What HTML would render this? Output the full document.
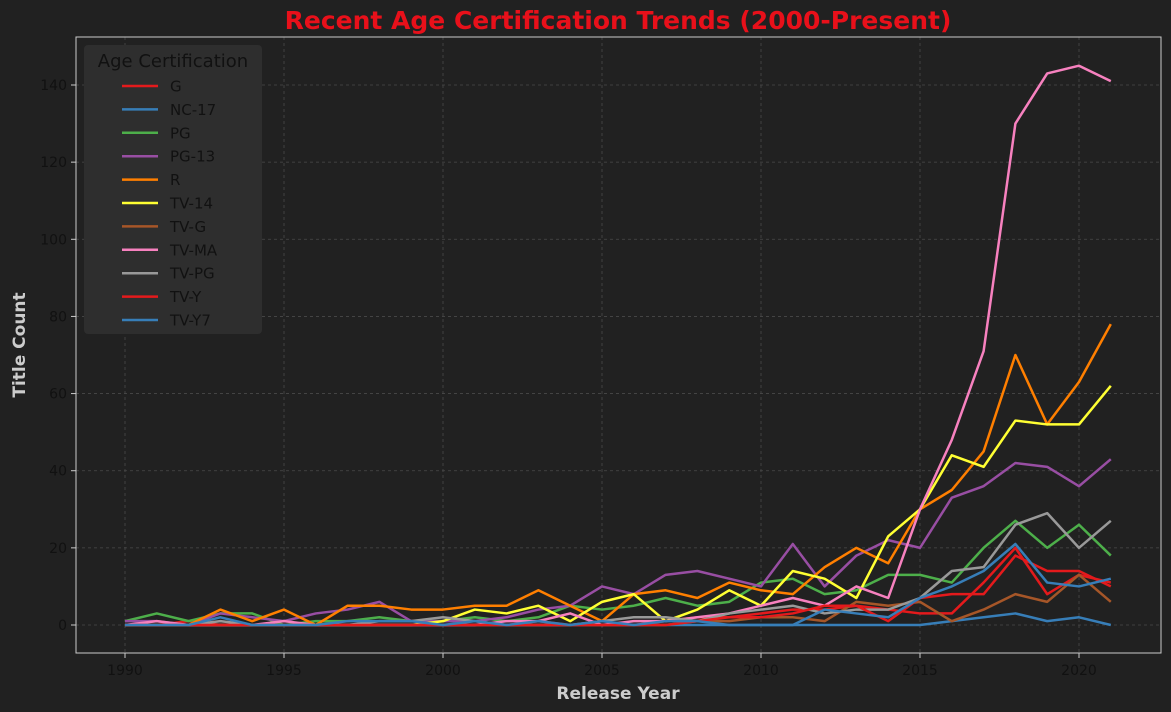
<!DOCTYPE html>
<html><head><meta charset="utf-8"><style>
html,body{margin:0;padding:0;background:#212121;overflow:hidden;}
svg{display:block;}
svg text{font-family:"DejaVu Sans","Liberation Sans",sans-serif;}
</style></head><body>
<svg id="chart" width="1171" height="712" xmlns="http://www.w3.org/2000/svg">
<rect width="1171" height="712" fill="#212121"/>
<g id="grid"></g><g id="series"></g><g id="axes"></g>
<text x="618" y="29" text-anchor="middle" font-size="25" font-weight="bold" fill="#e8101a">Recent Age Certification Trends (2000-Present)</text>
<text x="618" y="699" text-anchor="middle" font-size="17" font-weight="bold" fill="#cccccc">Release Year</text>
<text transform="translate(25,345) rotate(-90)" text-anchor="middle" font-size="17" font-weight="bold" fill="#cccccc">Title Count</text>
<g id="legend"></g>
</svg>
<script>
const years=[];for(let y=1990;y<=2021;y++)years.push(y);
const names=["G","NC-17","PG","PG-13","R","TV-14","TV-G","TV-MA","TV-PG","TV-Y","TV-Y7"];
const colors=["#e41a1c","#377eb8","#4daf4a","#984ea3","#ff7f00","#ffff33","#a65628","#f781bf","#999999","#e41a1c","#377eb8"];
const sG=[0,0,1,0,0,0,0,0,0,0,0,0,0,1,0,0,0,1,2,2,3,4,4,5,4,3,3,11,20,8,13,11];
const sNC17=[0,0,0,0,0,0,0,0,0,0,0,0,0,0,0,0,0,0,0,0,0,0,0,0,0,0,1,2,3,1,2,0];
const sPG=[1,3,1,3,3,0,1,1,2,1,1,2,1,2,5,4,5,7,5,6,11,12,8,9,13,13,11,20,27,20,26,18];
const sPG13=[1,1,0,3,2,1,3,4,6,1,1,1,2,4,5,10,8,13,14,12,10,21,10,18,22,20,33,36,42,41,36,43];
const sR=[0,0,0,4,1,4,0,5,5,4,4,5,5,9,5,1,8,9,7,11,9,8,15,20,16,30,35,45,70,52,63,78];
const sTV14=[0,0,0,0,0,0,0,0,0,0,1,4,3,5,1,6,8,1,4,9,5,14,12,7,23,30,44,41,53,52,52,62];
const sTVG=[0,0,0,0,0,0,0,0,0,0,0,0,0,0,0,0,0,0,1,1,2,2,1,6,5,6,1,4,8,6,13,6];
const sTVMA=[0,1,0,0,0,1,0,0,0,0,0,0,1,1,3,0,1,1,2,3,5,7,5,10,7,30,48,71,130,143,145,141];
const sTVPG=[0,0,0,1,0,0,0,0,1,1,2,1,0,0,0,1,2,2,1,3,4,5,3,4,4,7,14,15,26,29,20,27];
const sTVY=[0,0,0,0,0,0,0,0,0,0,0,0,0,0,0,0,0,0,1,2,2,3,5,5,1,7,8,8,18,14,14,10];
const sTVY7=[0,0,0,2,0,0,0,1,1,1,0,1,0,1,0,1,0,1,1,0,0,0,4,3,2,7,10,14,21,11,10,12];
const series=[sG,sNC17,sPG,sPG13,sR,sTV14,sTVG,sTVMA,sTVPG,sTVY,sTVY7];
const yTicks=[0,20,40,60,80,100,120,140];
const xTicks=[1990,1995,2000,2005,2010,2015,2020];
const L=76,R=1161,T=37,B=653;
const x=v=>125+(v-1990)*(1079-125)/30;
const y=v=>625-v*(540/140);
const NS="http://www.w3.org/2000/svg";
function mk(tag,attrs,parent){const e=document.createElementNS(NS,tag);for(const k in attrs)e.setAttribute(k,attrs[k]);parent.appendChild(e);return e;}
const grid=document.getElementById('grid'),axes=document.getElementById('axes'),sg=document.getElementById('series'),lg=document.getElementById('legend');
xTicks.forEach(t=>{
 const g=mk('line',{x1:x(t),x2:x(t),y1:T,y2:B,stroke:'#4a4a4a',"stroke-dasharray":'3,3',"stroke-width":0.8},grid);
 
 mk('line',{x1:x(t),x2:x(t),y1:B,y2:B+5,stroke:'#ccc'},axes);
 const tx=mk('text',{x:x(t),y:B+22,"text-anchor":'middle',"font-size":14,fill:'#111'},axes);tx.textContent=t;
 
});
yTicks.forEach(t=>{
 const g=mk('line',{x1:L,x2:R,y1:y(t),y2:y(t),stroke:'#4a4a4a',"stroke-dasharray":'3,3',"stroke-width":0.8},grid);
 
 mk('line',{x1:L-5,x2:L,y1:y(t),y2:y(t),stroke:'#ccc'},axes);
 const tx=mk('text',{x:L-9,y:y(t)+5,"text-anchor":'end',"font-size":14,fill:'#111'},axes);tx.textContent=t;
 
});
const frame=mk('rect',{x:L,y:T,width:R-L,height:B-T,fill:'none',stroke:'#ccc',"stroke-width":1},axes);

series.forEach((s,i)=>{
 const p=mk('polyline',{points:s.map((v,j)=>x(years[j])+','+y(v)).join(' '),fill:'none',stroke:colors[i],"stroke-width":2.5,"stroke-linejoin":'round'},sg);
 
});
const box=mk('rect',{x:84,y:45,width:178,height:289,rx:4,fill:'#2e2e2e',stroke:'none'},lg);

const lt=mk('text',{x:173,y:67,"text-anchor":'middle',"font-size":18,fill:'#111'},lg);lt.textContent='Age Certification';

names.forEach((n,i)=>{
 const yy=86+i*23.4;
 const g=mk('g',{},lg);
 
 mk('line',{x1:122,x2:158,y1:yy,y2:yy,stroke:colors[i],"stroke-width":2.5},g);
 const t=mk('text',{x:170,y:yy+5.5,"font-size":15,fill:'#111'},g);t.textContent=n;
});
</script>
</body></html>
